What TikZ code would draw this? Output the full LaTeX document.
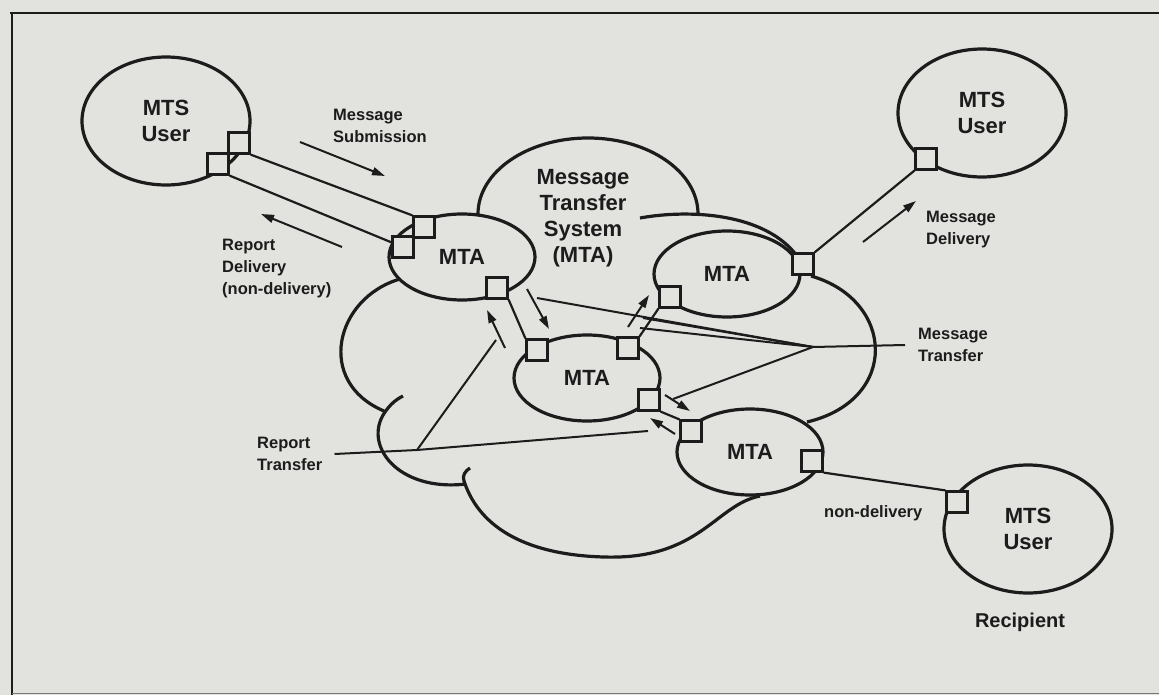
\documentclass[tikz,border=0pt]{standalone}
\usepackage{fontspec}
\setmainfont{Liberation Sans}
\usetikzlibrary{shapes.geometric,arrows.meta,calc}
\definecolor{paper}{RGB}{226,226,223}
\definecolor{ink}{RGB}{28,28,28}
\newcommand\biglab{\fontsize{22}{26}\selectfont\bfseries}
\newcommand\smalllab{\fontsize{16.5}{22}\selectfont\bfseries}
\newcommand\reclab{\fontsize{20}{24}\selectfont\bfseries}
\begin{document}
\begin{tikzpicture}[x=1pt,y=-1pt,
  usr/.style={ellipse, draw=ink, line width=3.2pt, fill=paper, minimum width=168pt,
    minimum height=128pt, inner sep=0pt, align=center, text=ink, font=\biglab},
  mta/.style={ellipse, draw=ink, line width=3.2pt, fill=paper, minimum width=146pt,
    minimum height=86pt, inner sep=0pt, text=ink, font=\biglab},
  port/.style={rectangle, draw=ink, fill=paper, line width=2.2pt, minimum size=21pt, inner sep=0pt},
  lobe/.style={draw=ink, line width=3.2pt},
  conn/.style={draw=ink, line width=2.2pt},
  lead/.style={draw=ink, line width=2pt},
  flow/.style={draw=ink, line width=2pt, -{Triangle[length=13pt,width=8pt]}},
  lab/.style={inner sep=0pt, align=left, text=ink, font=\smalllab, anchor=west},
  sysname/.style={inner sep=0pt, align=center, text=ink, font=\biglab}
]
% page and frame
\useasboundingbox (0,0) rectangle (1159,695);
\fill[paper] (0,0) rectangle (1159,695);
\draw[ink, line width=2.2pt] (10,13) -- (1159,13);
\draw[ink, line width=2.2pt] (12,13) -- (12,695);
\draw[ink!60, line width=1pt] (12,693) -- (1159,693);

% outline of the message transfer system cloud
\draw[lobe] (478,214) .. controls (478,172) and (527,138) .. (588,138)
            .. controls (649,138) and (698,172) .. (698,214);
\draw[lobe] (640,218) .. controls (690,209) and (765,213) .. (797,256);
\draw[lobe] (811,276) .. controls (895,300) and (900,400) .. (807,422);
\draw[lobe] (760,496) .. controls (715,505) and (700,560) .. (604,557)
            .. controls (530,555) and (480,530) .. (464,481)
            .. controls (462,476) and (465,471) .. (470,468);
\draw[lobe] (466,484) .. controls (398,492) and (362,445) .. (385,412)
            .. controls (390,405) and (395,400) .. (403,396);
\draw[lobe] (400,279) .. controls (335,298) and (315,382) .. (384,411);

% users and transfer agents
\node[usr] (u1) at (166,121) {MTS\\User};
\node[usr] (u2) at (982,113) {MTS\\User};
\node[usr] (u3) at (1028,529) {MTS\\User};
\node[mta] (m1) at (462,257) {MTA};
\node[mta] (m2) at (727,274) {MTA};
\node[mta] (m3) at (587,378) {MTA};
\node[mta] (m4) at (750,452) {MTA};

% access ports
\node[port] (p1a) at (239,143) {};
\node[port] (p1b) at (218,164) {};
\node[port] (q1a) at (424,227) {};
\node[port] (q1b) at (403,247) {};
\node[port] (q1c) at (497,288) {};
\node[port] (p2)  at (926,159) {};
\node[port] (q2r) at (803,264) {};
\node[port] (q2l) at (670,297) {};
\node[port] (q3a) at (537,350) {};
\node[port] (q3b) at (628,348) {};
\node[port] (q3c) at (649,400) {};
\node[port] (q4a) at (691,431) {};
\node[port] (q4b) at (812,461) {};
\node[port] (p3)  at (957,502) {};

% links between ports
\draw[conn] (p1a.south east) -- (q1a.north west);
\draw[conn] (p1b.south east) -- ($(q1b.north west)!0.3!(q1b.south west)$);
\draw[conn] (p2.south west) -- (q2r.north east);
\draw[conn] (q4b.south east) -- (p3.north west);
\draw[conn] (q1c.south east) -- (q3a.north west);
\draw[conn] (q3b.north east) -- (q2l.south west);
\draw[conn] (q3c.south east) -- (q4a.north west);

% labels
\node[lab] (lsub) at (333,126) {Message\\Submission};
\node[lab] (lrep) at (222,269) {Report\\Delivery\\(non-delivery)};
\node[lab] (ldel) at (926,230) {Message\\Delivery};
\node[lab] (lmt)  at (918,345) {Message\\Transfer};
\node[lab] (lrt)  at (257,454) {Report\\Transfer};
\node[lab] (lnd)  at (824,513) {non-delivery};
\node[sysname] (mts) at (583,218) {Message\\Transfer\\System\\(MTA)};
\node[sysname, font=\reclab] (rcp) at (1020,622) {Recipient};

% flow arrows
\coordinate (subA) at (300,142);  \coordinate (subB) at (385,176);
\coordinate (rdA)  at (342,247);  \coordinate (rdB)  at (261,214);
\coordinate (dlA)  at (863,242);  \coordinate (dlB)  at (916,201);
\coordinate (t1A)  at (527,289);  \coordinate (t1B)  at (549,329);
\coordinate (t2A)  at (628,327);  \coordinate (t2B)  at (649,295);
\coordinate (t3A)  at (665,395);  \coordinate (t3B)  at (690,411);
\coordinate (r1A)  at (505,348);  \coordinate (r1B)  at (487,310);
\coordinate (r2A)  at (675,434);  \coordinate (r2B)  at (650,418);
\draw[flow] (subA) -- (subB);
\draw[flow] (rdA) -- (rdB);
\draw[flow] (dlA) -- (dlB);
\draw[flow] (t1A) -- (t1B);
\draw[flow] (t2A) -- (t2B);
\draw[flow] (t3A) -- (t3B);
\draw[flow] (r1A) -- (r1B);
\draw[flow] (r2A) -- (r2B);

% leader lines of the transfer labels
\coordinate (mtc) at (813,347);
\coordinate (f1) at (537,298);
\coordinate (f2) at (643,318);
\coordinate (f3) at (640,328);
\coordinate (f4) at (673,399);
\draw[lead] ([xshift=-13pt]lmt.west) -- (mtc);
\draw[lead] (mtc) -- (f1);
\draw[lead] (mtc) -- (f2);
\draw[lead] (mtc) -- (f3);
\draw[lead] (mtc) -- (f4);
\coordinate (rtj) at (417,450);
\coordinate (rte) at (648,431);
\coordinate (rtu) at (496,340);
\draw[lead] ([xshift=12pt]lrt.east) -- (rtj) -- (rte);
\draw[lead] (rtj) -- (rtu);
\end{tikzpicture}
\end{document}
